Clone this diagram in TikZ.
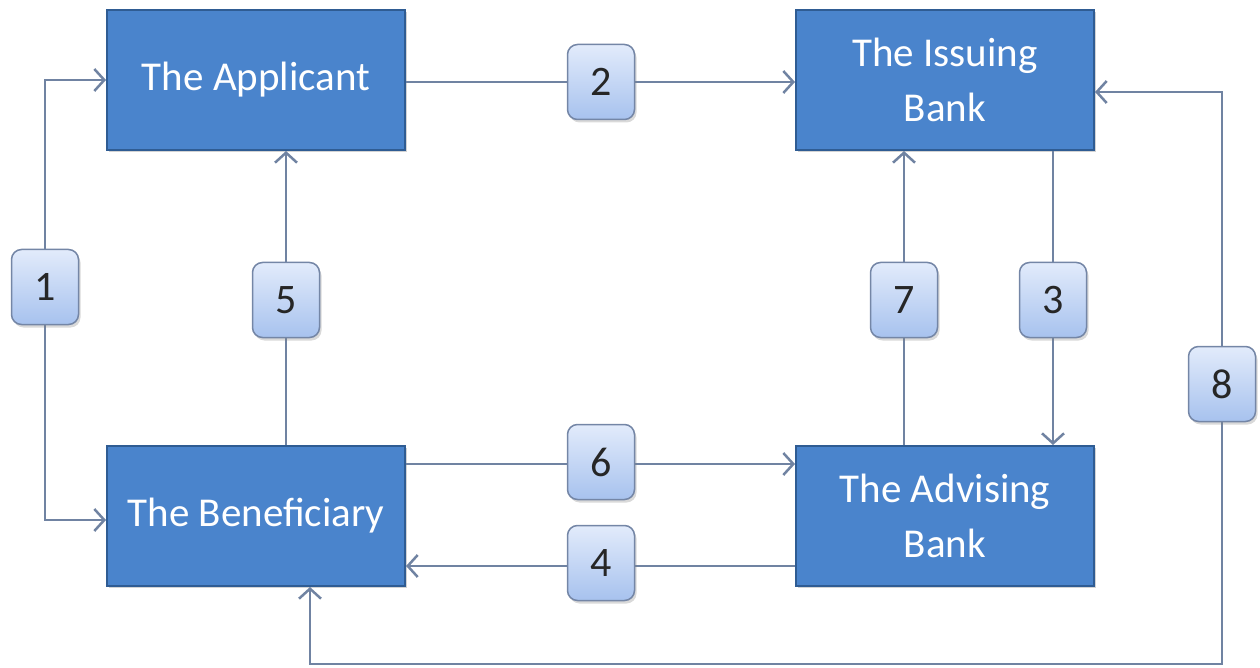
\documentclass[tikz,border=0pt]{standalone}
\usepackage{fontspec}
\setmainfont{Carlito}
\usetikzlibrary{arrows.meta,shadows}
\definecolor{boxfill}{HTML}{4A84CC}
\definecolor{boxline}{HTML}{2F5C93}
\definecolor{badgetop}{HTML}{E2EBFB}
\definecolor{badgebot}{HTML}{A7C2EE}
\definecolor{badgeline}{HTML}{7486A6}
\definecolor{conn}{HTML}{7083A2}
\begin{document}
\begin{tikzpicture}[x=1pt,y=-1pt,
  party/.style={draw=boxline,line width=2pt,fill=boxfill,text=white,
    minimum width=298pt,minimum height=140pt,inner sep=0pt,align=center,
    font=\fontsize{41}{55}\selectfont,
    drop shadow={opacity=0.35,shadow xshift=2pt,shadow yshift=-2pt}},
  badge/.style={draw=badgeline,line width=1.5pt,rounded corners=10pt,
    top color=badgetop,bottom color=badgebot,text=black!85,
    minimum width=67pt,minimum height=75pt,inner sep=0pt,
    font=\fontsize{42}{48}\selectfont,
    drop shadow={opacity=0.3,shadow xshift=2pt,shadow yshift=-3pt}},
  conn/.style={draw=conn,line width=2.5pt},
  arr/.style={conn,-{Straight Barb[length=10pt,width=22pt,line width=2.5pt]}}
]
\useasboundingbox (0,0) rectangle (1260,668);
% parties
\node[party] (app) at (256,80) {The Applicant};
\node[party] (iss) at (945,80) {The Issuing\\Bank};
\node[party] (ben) at (256,516) {The Beneficiary};
\node[party] (adv) at (945,516) {The Advising\\Bank};
% connector corner points
\coordinate (c1a) at (45,80);
\coordinate (c1b) at (45,520);
\coordinate (c8a) at (1222,92);
\coordinate (c8b) at (1222,664);
\coordinate (c8c) at (310,664);
% connectors (drawn under badges)
\path[arr] (45,290) -- (c1a) -- (app.west |- c1a);
\path[arr] (45,290) -- (c1b) -- (ben.west |- c1b);
\path[arr] (app.east |- 0,82) -- (iss.west |- 0,82);
\path[arr] (iss.south -| 1053,0) -- (adv.north -| 1053,0);
\path[arr] (ben.north -| 286,0) -- (app.south -| 286,0);
\path[arr] (adv.north -| 904,0) -- (iss.south -| 904,0);
\path[arr] (ben.east |- 0,464) -- (adv.west |- 0,464);
\path[arr] (adv.west |- 0,566) -- (ben.east |- 0,566);
\path[arr] (1222,384) -- (c8a) -- (iss.east |- c8a);
\path[arr] (1222,384) -- (c8b) -- (c8c) -- (ben.south -| c8c);
% badges
\node[badge] (b1) at (45,287) {1};
\node[badge] (b2) at (601,82) {2};
\node[badge] (b3) at (1053,300) {3};
\node[badge] (b4) at (601,563) {4};
\node[badge] (b5) at (286,300) {5};
\node[badge] (b6) at (601,462) {6};
\node[badge] (b7) at (904,300) {7};
\node[badge] (b8) at (1222,384) {8};
\end{tikzpicture}
\end{document}
